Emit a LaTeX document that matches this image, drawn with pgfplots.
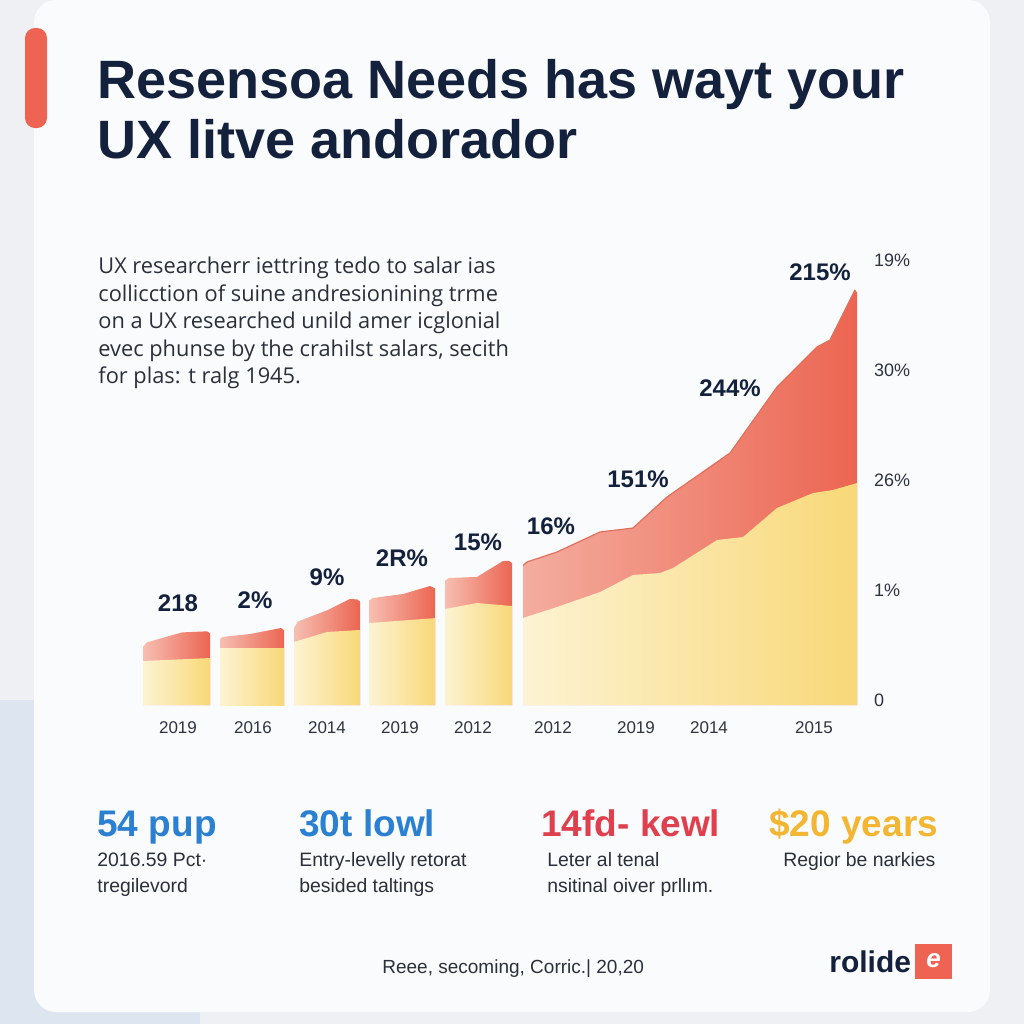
\documentclass[border=0pt]{standalone}
\usepackage{fontspec}
\setmainfont{Liberation Sans}
\newfontfamily\bodyfont{Open Sans}
\usepackage{pgfplots}
\pgfplotsset{compat=1.18}
\definecolor{pagebg}{HTML}{EEF0F3}
\definecolor{pageblue}{HTML}{DDE6F0}
\definecolor{cardbg}{HTML}{FAFBFC}
\definecolor{navy}{HTML}{13213C}
\definecolor{bodytxt}{HTML}{2A2F3A}
\definecolor{labelgray}{HTML}{2E3340}
\definecolor{accent}{HTML}{EE6352}
\definecolor{yL}{HTML}{FDF3D3}
\definecolor{yD}{HTML}{F8D878}
\definecolor{rL}{HTML}{F6BFB2}
\definecolor{rD}{HTML}{EC6552}
\definecolor{rLine}{HTML}{E0705C}
\definecolor{statblue}{HTML}{2B80D2}
\definecolor{statred}{HTML}{E0404E}
\definecolor{statamber}{HTML}{F2B632}
\begin{document}
\begin{tikzpicture}[x=0.5pt,y=-0.5pt]
\useasboundingbox (0,0) rectangle (1024,1024);
% page and card
\fill[pagebg] (0,0) rectangle (1024,1024);
\fill[pageblue] (0,700) rectangle (200,1024);
\fill[cardbg, rounded corners=11pt] (34,0) rectangle (990,1012);
\fill[accent, rounded corners=5pt] (25,28) rectangle (47,128);
% title
\node[anchor=base west, inner sep=0pt, text=navy, font=\fontsize{27}{30}\selectfont\bfseries] at (97,98) {Resensoa Needs has wayt your};
\node[anchor=base west, inner sep=0pt, text=navy, font=\fontsize{27}{30}\selectfont\bfseries] at (97,158) {UX litve andorador};
% paragraph
\begin{scope}[every node/.style={anchor=base west, inner sep=0pt, text=bodytxt, font=\bodyfont\fontsize{10.9}{12}\selectfont}]
\node at (98,273) {UX researcherr iettring tedo to salar ias};
\node at (98,301) {collicction of suine andresionining trme};
\node at (98,328) {on a UX researched unild amer icglonial};
\node at (98,356) {evec phunse by the crahilst salars, secith};
\node at (98,383) {for plas: t ralg 1945.};
\end{scope}
% chart
\begin{axis}[at={(71.5pt,-352.5pt)}, anchor=south west, scale only axis,
  width=357pt, height=242pt, xmin=143, xmax=857, ymin=0, ymax=4.4,
  axis line style={draw=none}, major tick length=0pt, clip=false,
  xtick={178,253,327,400,473,553,636,709,814},
  xticklabels={2019,2016,2014,2019,2012,2012,2019,2014,2015},
  xticklabel style={font=\fontsize{8.5}{10}\selectfont, text=labelgray, yshift=-5pt},
  ytick={0,1,2,3,4}, yticklabels={0,1\%,26\%,30\%,19\%},
  yticklabel pos=right,
  yticklabel style={anchor=west, xshift=5pt, yshift=2.5pt, font=\fontsize{9}{10}\selectfont, text=labelgray},
  /pgf/number format/assume math mode=true]
% red layers
\addplot[draw=none, left color=rL, right color=rD] coordinates {(143,0.53) (147,0.57) (182,0.66) (207,0.67) (210,0.65)} \closedcycle;
\addplot[draw=none, left color=rL, right color=rD] coordinates {(220,0.60) (223,0.62) (250,0.645) (281,0.70) (284,0.68)} \closedcycle;
\addplot[draw=none, left color=rL, right color=rD] coordinates {(294,0.70) (298,0.76) (328,0.864) (350,0.964) (357,0.96) (360,0.94)} \closedcycle;
\addplot[draw=none, left color=rL, right color=rD] coordinates {(369,0.95) (373,0.973) (403,1.009) (430,1.082) (435,1.06)} \closedcycle;
\addplot[draw=none, left color=rL, right color=rD] coordinates {(445,1.13) (449,1.155) (477,1.164) (503,1.309) (509,1.31) (512,1.29)} \closedcycle;
\addplot[draw=none, left color=rL!80!rD, right color=rD] coordinates {(523,1.27) (527,1.30) (557,1.391) (600,1.573) (633,1.609) (667,1.891) (730,2.291) (777,2.891) (817,3.255) (830,3.318) (855,3.773) (857,3.75)} \closedcycle;
% yellow layers
\addplot[draw=none, left color=yL, right color=yD] coordinates {(143,0.40) (210,0.427)} \closedcycle;
\addplot[draw=none, left color=yL, right color=yD] coordinates {(220,0.518) (284,0.518)} \closedcycle;
\addplot[draw=none, left color=yL, right color=yD] coordinates {(294,0.573) (327,0.664) (360,0.682)} \closedcycle;
\addplot[draw=none, left color=yL, right color=yD] coordinates {(369,0.745) (435,0.79)} \closedcycle;
\addplot[draw=none, left color=yL, right color=yD] coordinates {(445,0.873) (477,0.927) (512,0.9)} \closedcycle;
\addplot[draw=none, left color=yL, right color=yD] coordinates {(523,0.791) (557,0.891) (600,1.027) (633,1.182) (660,1.2) (673,1.245) (717,1.5) (743,1.527) (777,1.791) (813,1.927) (833,1.955) (857,2.018)} \closedcycle;
% red top edges
\addplot[rLine, line width=0.6pt] coordinates {(523,1.27) (527,1.30) (557,1.391) (600,1.573) (633,1.609) (667,1.891) (730,2.291) (777,2.891) (817,3.255) (830,3.318) (855,3.773)};
\end{axis}
% value labels
\begin{scope}[every node/.style={inner sep=0pt, text=navy, font=\fontsize{12}{13}\selectfont\bfseries}]
\node at (178,603) {218};
\node at (255,600) {2\%};
\node at (327,577) {9\%};
\node at (402,558) {2R\%};
\node at (478,542) {15\%};
\node at (551,526) {16\%};
\node at (638,479) {151\%};
\node at (730,388) {244\%};
\node at (820,272) {215\%};
\end{scope}
% stats
\begin{scope}[every node/.style={anchor=base west, inner sep=0pt, font=\fontsize{18.5}{22}\selectfont\bfseries}]
\node[text=statblue] at (97,836) {54 pup};
\node[text=statblue] at (299,836) {30t lowl};
\node[text=statred] at (541,836) {14fd- kewl};
\node[text=statamber] at (769,836) {\$20 years};
\end{scope}
\begin{scope}[every node/.style={anchor=base west, inner sep=0pt, text=bodytxt, font=\fontsize{9.7}{11}\selectfont}]
\node at (97,866) {2016.59 Pct·};
\node at (97,892) {tregilevord};
\node at (299,866) {Entry-levelly retorat};
\node at (299,892) {besided taltings};
\node at (547,866) {Leter al tenal};
\node at (547,892) {nsitinal oiver prllım.};
\node at (783,866) {Regior be narkies};
\end{scope}
% footer
\node[anchor=base west, inner sep=0pt, text=bodytxt, font=\fontsize{9.5}{11}\selectfont] at (382,973) {Reee, secoming, Corric.| 20,20};
\node[anchor=base west, inner sep=0pt, text=navy, font=\fontsize{15}{16}\selectfont\bfseries] at (829,972) {rolide};
\fill[accent] (915,944) rectangle (952,979);
\node[inner sep=0pt, text=white, font=\fontsize{13}{14}\selectfont\bfseries\itshape] at (933.5,961) {e};
\end{tikzpicture}
\end{document}
